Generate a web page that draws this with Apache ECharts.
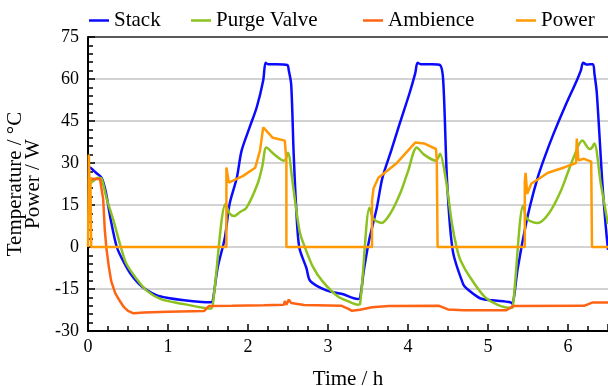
<!DOCTYPE html>
<html>
<head>
<meta charset="utf-8">
<script src="https://cdn.jsdelivr.net/npm/echarts@6/dist/echarts.min.js"></script>
<style>
  html, body { margin: 0; padding: 0; background: #fff; }
  #chart { width: 608px; height: 386px; }
</style>
</head>
<body>
<div id="chart"></div>
<script>
// time in h, temperature in °C / power in W
const stackData = [
  [0, 28.5], [0.03, 28.3], [0.1, 26.5], [0.17, 24.7], [0.22, 20], [0.28, 10.4], [0.36, 0],
  [0.44, -5], [0.53, -9.5], [0.63, -13], [0.73, -15.3], [0.86, -17.3], [1.0, -18.2],
  [1.2, -19], [1.42, -19.6], [1.54, -19.7], [1.56, -19.2], [1.62, -7.5], [1.71, 3.2],
  [1.77, 15.4], [1.86, 24.7], [1.92, 34.4], [2.02, 42.7], [2.11, 50], [2.19, 59.5],
  [2.22, 65.8], [2.25, 65.3], [2.35, 65.3], [2.49, 65], [2.51, 63], [2.54, 58],
  [2.57, 34], [2.6, 15.4], [2.64, 0], [2.73, -7.5], [2.78, -12.2], [2.98, -15.5],
  [3.18, -16.8], [3.37, -18.6], [3.4, -18.3], [3.45, -8], [3.52, 3.2], [3.61, 14],
  [3.68, 24.7], [3.79, 34.4], [3.9, 44.4], [4.02, 55], [4.09, 62], [4.12, 65.8],
  [4.16, 65.3], [4.3, 65.3], [4.4, 65], [4.44, 59.5], [4.49, 22.6], [4.56, -1.4],
  [4.69, -13.3], [4.74, -15], [4.9, -18.3], [5.05, -19], [5.28, -19.7], [5.3, -20.2],
  [5.37, -8], [5.44, 3.2], [5.52, 14], [5.62, 24.7], [5.72, 33], [5.82, 40.5],
  [5.96, 50], [6.11, 59.5], [6.16, 63], [6.19, 65.8], [6.23, 65.2], [6.31, 65.3],
  [6.33, 62], [6.36, 55], [6.43, 22.6], [6.47, 8], [6.5, -1]
];
const purgeData = [
  [0, 22.6], [0.04, 23], [0.13, 24.7], [0.17, 24.4], [0.23, 17.6], [0.32, 9.3], [0.41, 0],
  [0.48, -6], [0.61, -11.5], [0.73, -15.5], [0.91, -18.6], [1.2, -20.4], [1.42, -21.6],
  [1.54, -22], [1.57, -18], [1.72, 15.4], [1.77, 12], [1.83, 11.1], [1.9, 12.5],
  [1.98, 14], [2.12, 22.6], [2.18, 29], [2.23, 35.5], [2.33, 33], [2.45, 30.8],
  [2.48, 32], [2.5, 33.7], [2.56, 22.6], [2.6, 14], [2.65, 5], [2.71, 0], [2.81, -7],
  [2.93, -12.2], [3.12, -17.6], [3.26, -19.5], [3.37, -20.6], [3.4, -20.4], [3.52, 14],
  [3.57, 10], [3.67, 8.6], [3.78, 12], [3.9, 19], [4.0, 27], [4.11, 35.5], [4.2, 33],
  [4.35, 30.8], [4.38, 32], [4.4, 33.3], [4.47, 24.7], [4.55, 8.2], [4.61, -0.4],
  [4.66, -5], [4.78, -11], [4.99, -18.6], [5.28, -21.8], [5.31, -21.5], [5.44, 14.7],
  [5.49, 10], [5.62, 8.6], [5.76, 12], [5.91, 20], [6.07, 32], [6.18, 38], [6.27, 35],
  [6.3, 35.5], [6.33, 37], [6.41, 22.6], [6.5, 8.2]
];
const ambienceData = [
  [0, 23.7], [0.04, 24.4], [0.15, 24.3], [0.17, 23.7], [0.19, 17], [0.21, 6], [0.23, -0.4],
  [0.26, -7], [0.29, -12.2], [0.34, -16.5], [0.4, -19.4], [0.45, -21.5], [0.5, -22.8],
  [0.57, -23.7], [0.7, -23.4], [1.0, -23.1],
  [1.45, -22.9], [1.51, -21.1], [1.8, -21], [2.2, -20.8], [2.45, -20.6], [2.46, -19.3],
  [2.48, -20.6], [2.51, -18.8], [2.54, -20], [2.7, -20.7], [3.17, -21], [3.25, -22],
  [3.3, -22.8], [3.4, -22.4], [3.55, -21.5], [3.76, -21.1], [4.39, -21], [4.5, -22.3],
  [4.7, -22.6], [5.23, -22.6], [5.31, -21.1], [6.2, -21], [6.31, -19.8], [6.5, -19.8]
];
const powerData = [
  [0, 0], [0.01, 33], [0.02, 22], [0.03, 25], [0.04, 0], [1.73, 0], [1.73, 28.4],
  [1.76, 23], [1.94, 25.4], [2.09, 28.3], [2.15, 34.4], [2.19, 42.7], [2.21, 43.4],
  [2.31, 39], [2.46, 38], [2.48, 30.8], [2.48, 0], [3.55, 0], [3.55, 16.5], [3.57, 21],
  [3.63, 24.7], [3.85, 29.7], [4.09, 37.3], [4.2, 37], [4.35, 35], [4.36, 31], [4.37, 0],
  [5.46, 0], [5.46, 23.3], [5.47, 26.5], [5.49, 19], [5.54, 22.6], [5.75, 26.5],
  [5.96, 28.5], [6.1, 30], [6.11, 38.7], [6.13, 31], [6.2, 31.5], [6.29, 30.5],
  [6.3, 0], [6.5, 0]
];
const seriesNames = ['Stack', 'Purge Valve', 'Ambience', 'Power'];
const seriesColors = ['#0a0aff', '#8cc21f', '#ff6414', '#ff9a05'];
const seriesData = [stackData, purgeData, ambienceData, powerData];
const seriesSmooth = [0.3, 0.3, false, false];
const legendLeft = [89, 191, 363, 516];

const font = 'Liberation Serif';
const chart = echarts.init(document.getElementById('chart'));

const option = {
  animation: false,
  textStyle: { fontFamily: font, color: '#000' },
  // one legend per item so each sits where it does in the figure
  legend: seriesNames.map((name, i) => ({
    left: legendLeft[i],
    top: 10,
    padding: 0,
    icon: 'rect',
    itemWidth: 20,
    itemHeight: 2.5,
    textStyle: { fontFamily: font, fontSize: 21, color: '#000' },
    data: [name]
  })),
  grid: { left: 88, right: 0, top: 37, bottom: 55, containLabel: false, outerBoundsMode: 'none' },
  xAxis: [{
    type: 'value',
    min: 0,
    max: 6.5,
    interval: 1,
    name: 'Time / h',
    nameLocation: 'middle',
    nameGap: 38,
    nameTextStyle: { fontFamily: font, fontSize: 21, color: '#000' },
    axisLine: { show: true, onZero: false, lineStyle: { color: '#000', width: 2 } },
    axisTick: { show: true, inside: true, length: 7, lineStyle: { color: '#000', width: 1.5 } },
    minorTick: { show: true, splitNumber: 4, length: 5, lineStyle: { color: '#000', width: 1.5 } },
    axisLabel: { fontFamily: font, fontSize: 18, color: '#000', margin: 7, showMaxLabel: false },
    splitLine: { show: false }
  }, {
    type: 'value',
    position: 'top',
    min: 0,
    max: 6.5,
    axisLine: { show: true, onZero: false, lineStyle: { color: '#333', width: 1.5 } },
    axisTick: { show: false },
    axisLabel: { show: false },
    splitLine: { show: false }
  }],
  yAxis: {
    type: 'value',
    min: -30,
    max: 75,
    interval: 15,
    name: 'Temperature / \u00b0C\nPower / W',
    nameLocation: 'middle',
    nameGap: 45,
    nameRotate: 90,
    nameTextStyle: { fontFamily: font, fontSize: 21, lineHeight: 18, color: '#000' },
    axisLine: { show: true, onZero: false, lineStyle: { color: '#000', width: 2 } },
    axisTick: { show: true, inside: true, length: 7, lineStyle: { color: '#000', width: 1.5 } },
    minorTick: { show: true, splitNumber: 5, length: 5, lineStyle: { color: '#000', width: 1.5 } },
    axisLabel: { fontFamily: font, fontSize: 18, color: '#000', margin: 9 },
    splitLine: { show: true, lineStyle: { color: '#c4c4c4', width: 1.5 } }
  },
  series: seriesNames.map((name, i) => ({
    name: name,
    type: 'line',
    xAxisIndex: 0,
    symbol: 'none',
    showSymbol: false,
    smooth: seriesSmooth[i],
    color: seriesColors[i],
    lineStyle: { width: 2.5, color: seriesColors[i] },
    data: seriesData[i]
  }))
};

chart.setOption(option);
</script>
</body>
</html>
